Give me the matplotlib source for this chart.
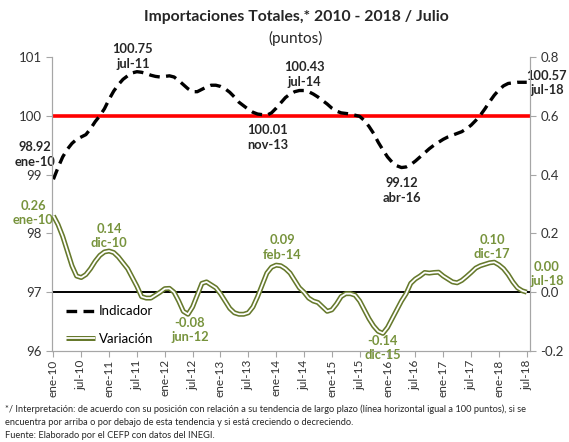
import matplotlib
matplotlib.use("Agg")
import matplotlib.pyplot as plt
import numpy as np

plt.rcParams['font.family'] = ['Lato', 'DejaVu Sans']

# ---------------- data ----------------
meses = ["ene", "feb", "mar", "abr", "may", "jun", "jul", "ago", "sep", "oct", "nov", "dic"]
periodos = [f"{meses[i % 12]}-{10 + i // 12}" for i in range(103)]  # ene-10 ... jul-18

indicador = [
    98.92, 99.12, 99.30, 99.43, 99.53, 99.60, 99.64, 99.68, 99.78, 99.90, 100.00, 100.12,   # 2010
    100.28, 100.42, 100.53, 100.62, 100.68, 100.73, 100.75, 100.74, 100.72, 100.69, 100.67, 100.66,  # 2011
    100.67, 100.68, 100.66, 100.60, 100.53, 100.46, 100.41, 100.41, 100.45, 100.49, 100.52, 100.52,  # 2012
    100.50, 100.46, 100.40, 100.32, 100.23, 100.17, 100.11, 100.06, 100.03, 100.02, 100.01, 100.05,  # 2013
    100.13, 100.22, 100.31, 100.37, 100.41, 100.43, 100.43, 100.41, 100.37, 100.32, 100.26, 100.20,  # 2014
    100.13, 100.08, 100.05, 100.04, 100.03, 100.01, 99.99, 99.92, 99.82, 99.70, 99.55, 99.42,        # 2015
    99.30, 99.21, 99.15, 99.12, 99.13, 99.17, 99.23, 99.30, 99.37, 99.44, 99.50, 99.55,              # 2016
    99.60, 99.64, 99.67, 99.70, 99.73, 99.78, 99.84, 99.92, 100.01, 100.12, 100.24, 100.35,          # 2017
    100.44, 100.51, 100.55, 100.56, 100.57, 100.57, 100.57,                                          # 2018
]

variacion = [
    0.26, 0.23, 0.19, 0.14, 0.09, 0.055, 0.05, 0.06, 0.08, 0.105, 0.125, 0.137,
    0.14, 0.135, 0.12, 0.10, 0.08, 0.05, 0.02, -0.015, -0.02, -0.02, -0.01, 0.0,
    0.012, 0.013, 0.0, -0.03, -0.065, -0.075, -0.05, -0.01, 0.03, 0.035, 0.025, 0.015,
    -0.005, -0.03, -0.055, -0.07, -0.075, -0.075, -0.07, -0.05, -0.015, 0.025, 0.065, 0.085,
    0.092, 0.09, 0.08, 0.065, 0.04, 0.015, 0.0, -0.02, -0.03, -0.035, -0.05, -0.065,
    -0.06, -0.04, -0.015, -0.005, -0.005, -0.01, -0.03, -0.06, -0.09, -0.115, -0.133, -0.14,
    -0.12, -0.09, -0.06, -0.03, -0.005, 0.03, 0.045, 0.055, 0.067, 0.065, 0.067, 0.068,
    0.055, 0.045, 0.035, 0.032, 0.04, 0.053, 0.067, 0.082, 0.09, 0.095, 0.10, 0.102,
    0.093, 0.08, 0.06, 0.035, 0.015, 0.005, 0.0,
]

tendencia = 100
cero = 0.0

# labelled points: index in series
etiquetas_ind = [0, 18, 46, 54, 75, 102]
valores_ind = [98.92, 100.75, 100.01, 100.43, 99.12, 100.57]
etiquetas_var = [0, 11, 29, 49, 71, 95, 102]
valores_var = [0.26, 0.14, -0.08, 0.09, -0.14, 0.10, 0.00]

# ---------------- figure ----------------
fig = plt.figure(figsize=(5.69, 4.42), dpi=100)
ax = fig.add_axes([52 / 569, 1 - 351 / 442, (530 - 52) / 569, (351 - 57) / 442])
ax2 = ax.twinx()

x = np.arange(len(indicador))
green_dark = '#66792c'
green_txt = '#77933C'

ax.axhline(tendencia, color='#ff0000', lw=2.6, zorder=2)
l_ind, = ax.plot(x, indicador, color='black', lw=2.4, dashes=(3.2, 1.9), zorder=3)

ax2.axhline(cero, color='black', lw=1.4, zorder=1)
l_var_o, = ax2.plot(x, variacion, color=green_dark, lw=3.6, solid_capstyle='butt', zorder=3)
l_var_i, = ax2.plot(x, variacion, color='white', lw=1.3, solid_capstyle='butt', zorder=4)

ax.set_xlim(-0.3, 102.7)
ax.set_ylim(96, 101)
ax2.set_ylim(-0.2, 0.8)
ax.set_yticks([96, 97, 98, 99, 100, 101])
ax2.set_yticks([-0.2, 0.0, 0.2, 0.4, 0.6, 0.8])
ax2.set_yticklabels([f"{v:.1f}" for v in [-0.2, 0.0, 0.2, 0.4, 0.6, 0.8]])

xt = list(range(0, 103, 6))
ax.set_xticks(xt)
ax.set_xticklabels([periodos[i] for i in xt], rotation=90, fontsize=8.5, color='#333333')

gray = '#a6a6a6'
for a in (ax, ax2):
    a.spines['top'].set_visible(False)
    for s in ('left', 'right', 'bottom'):
        a.spines[s].set_color(gray)
    a.tick_params(axis='both', colors=gray, labelcolor='#333333', labelsize=9.5, length=4, width=0.8)
ax.tick_params(axis='x', pad=2, labelsize=8.5)

# legend
leg = ax.legend([l_ind, (l_var_o, l_var_i)], ['Indicador', 'Variación'],
                loc='lower left', bbox_to_anchor=(0.012, -0.005), frameon=False,
                fontsize=9.5, labelspacing=1.15, handlelength=2.2, handletextpad=0.3,
                borderaxespad=0.2)
leg.set_zorder(10)

# annotations - indicador (offsets in points)
off_ind = [(-13, 18), (-3, 11), (0.5, -16), (0, 11.5), (0, -16.5), (14.5, -0.5)]
for i, v, (dx, dy) in zip(etiquetas_ind, valores_ind, off_ind):
    ax.annotate(f"{v:.2f}\n{periodos[i]}", xy=(i, indicador[i]), xytext=(dx, dy),
                textcoords='offset points', ha='center', va='center',
                fontsize=9.3, fontweight='bold', color='#262626',
                linespacing=1.25, annotation_clip=False, zorder=6)

# annotations - variacion
off_var = [(-14.5, 2), (3.5, 11.5), (1.5, -11.5), (1, 13), (0, -10.5), (-1.5, 11), (14.5, 13)]
for i, v, (dx, dy) in zip(etiquetas_var, valores_var, off_var):
    ax2.annotate(f"{v:.2f}\n{periodos[i]}", xy=(i, variacion[i]), xytext=(dx, dy),
                 textcoords='offset points', ha='center', va='center',
                 fontsize=9.3, fontweight='bold', color=green_txt,
                 linespacing=1.25, annotation_clip=False, zorder=6)

# titles
fig.text(0.52, 1 - 17 / 442, "Importaciones Totales,* 2010 - 2018 / Julio",
         ha='center', va='center', fontsize=11.3, fontweight='bold', color='#262626')
fig.text(0.52, 1 - 38 / 442, "(puntos)", ha='center', va='center', fontsize=11, color='#262626')

# footnotes
notas = [
    "*/ Interpretación: de acuerdo con su posición con relación a su tendencia de largo plazo (línea horizontal igual a 100 puntos), si se",
    "encuentra por arriba o por debajo de esta tendencia y si está creciendo o decreciendo.",
    "Fuente: Elaborado por el CEFP con datos del INEGI.",
]
for k, t in enumerate(notas):
    fig.text(5 / 569, 1 - (409 + 13.5 * k) / 442, t, ha='left', va='center', fontsize=6.7, color='#262626')

fig.savefig("out.png", dpi=100)
